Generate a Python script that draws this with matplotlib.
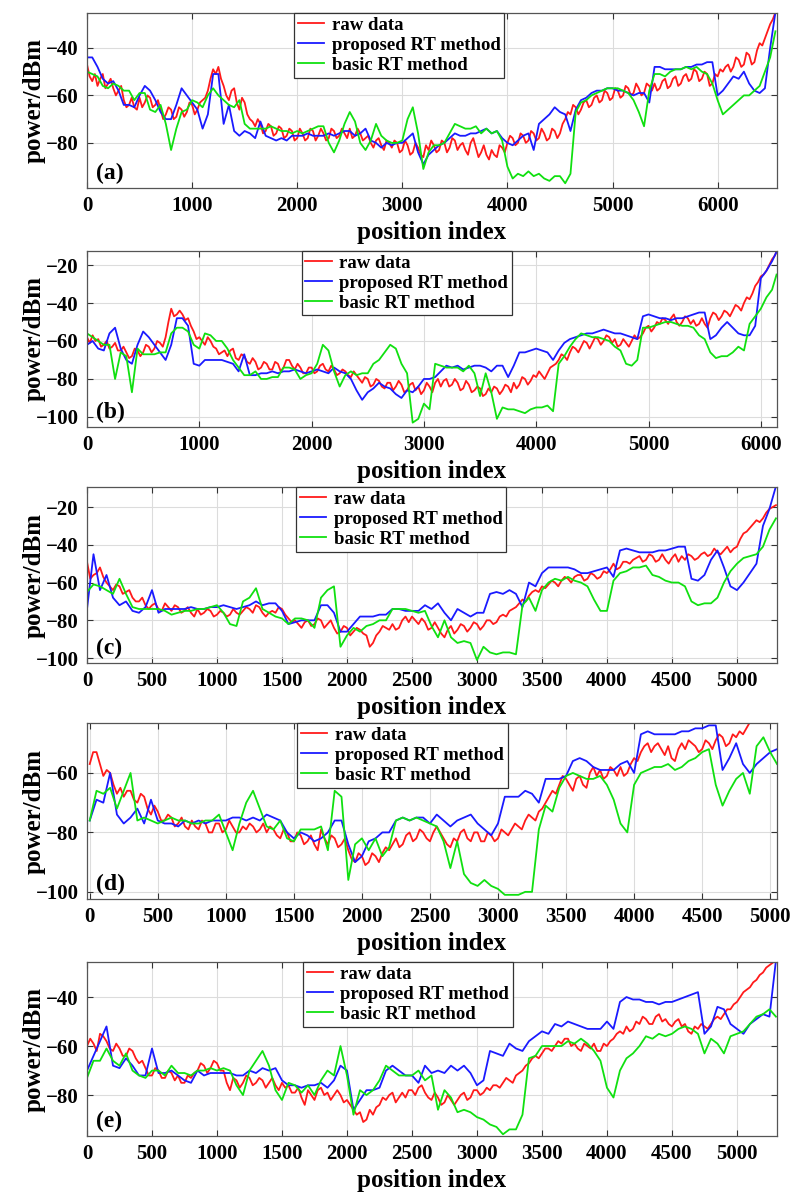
import numpy as np
import matplotlib
matplotlib.use('Agg')
import matplotlib.pyplot as plt

plt.rcParams['font.family'] = ['Liberation Serif', 'DejaVu Serif']
plt.rcParams['font.weight'] = 'bold'
plt.rcParams['axes.unicode_minus'] = True

# ---- data (a) ----
x_a_raw = np.arange(0, 6551, 25)
raw_a = [-47, -52, -54, -51, -56, -53, -51, -57, -55, -53, -57, -60, -58, -56, -62, -65, -64, -61, -65, -66,
         -61, -65, -63, -60, -61, -65, -64, -62, -66, -70, -68, -65, -66, -70, -69, -65, -66, -69, -67, -63,
         -64, -68, -66, -63, -62, -61, -58, -53, -49, -51, -48, -53, -56, -60, -62, -58, -57, -63, -66, -61,
         -63, -68, -70, -71, -73, -70, -72, -76, -75, -72, -73, -77, -76, -73, -74, -78, -77, -74, -75, -79,
         -78, -74, -76, -79, -78, -74, -75, -79, -77, -74, -76, -79, -78, -74, -75, -78, -77, -74, -76, -78,
         -74, -78, -77, -74, -76, -79, -78, -77, -80, -82, -79, -78, -81, -83, -79, -80, -82, -79, -80, -84,
         -83, -79, -81, -85, -84, -80, -82, -85, -86, -81, -83, -79, -81, -84, -83, -79, -80, -84, -82, -78,
         -79, -83, -81, -80, -83, -85, -80, -78, -82, -86, -84, -81, -85, -87, -83, -85, -86, -81, -82, -84,
         -80, -77, -78, -81, -80, -76, -77, -80, -79, -75, -76, -79, -78, -74, -76, -79, -78, -74, -75, -78,
         -76, -72, -70, -67, -68, -64, -65, -68, -66, -63, -62, -65, -64, -61, -60, -63, -62, -58, -59, -62,
         -61, -57, -58, -61, -60, -56, -57, -60, -59, -55, -57, -60, -59, -55, -56, -58, -55, -58, -57, -54,
         -53, -57, -56, -53, -52, -56, -55, -52, -51, -54, -53, -49, -50, -54, -53, -50, -51, -56, -55, -51,
         -52, -49, -50, -48, -47, -50, -48, -44, -45, -48, -47, -42, -43, -47, -46, -41, -38, -39, -36, -33,
         -30, -28, -25]
x_a = np.arange(0, 6551, 50)
prop_a = [-44, -44, -48, -53, -55, -54, -58, -64, -64, -65,
          -60, -56, -58, -62, -67, -70, -70, -64, -57, -60,
          -63, -66, -74, -68, -51, -51, -72, -64, -75, -77,
          -75, -76, -78, -71, -77, -78, -79, -78, -79, -77,
          -77, -77, -76, -77, -77, -77, -76, -77, -76, -75,
          -75, -77, -76, -74, -79, -80, -82, -80, -81, -80,
          -80, -78, -76, -84, -89, -85, -83, -81, -80, -78,
          -76, -77, -77, -76, -76, -75, -74, -76, -75, -78,
          -80, -81, -79, -77, -76, -83, -72, -70, -68, -65,
          -67, -68, -75, -66, -62, -61, -59, -58, -58, -57,
          -57, -58, -58, -59, -60, -59, -59, -63, -48, -48,
          -49, -49, -49, -49, -48, -48, -47, -47, -46, -46,
          -60, -58, -55, -52, -53, -50, -55, -58, -59, -57,
          -40, -25]
basic_a = [-50, -51, -52, -56, -57, -55, -56, -58, -58, -62,
           -59, -59, -66, -67, -64, -72, -83, -74, -67, -66,
           -62, -63, -65, -60, -57, -60, -62, -64, -65, -62,
           -72, -74, -74, -74, -74, -73, -74, -75, -75, -76,
           -75, -76, -75, -74, -73, -73, -80, -84, -79, -72,
           -67, -71, -80, -83, -79, -72, -77, -79, -80, -80,
           -79, -70, -65, -76, -91, -84, -81, -81, -80, -76,
           -72, -73, -74, -74, -73, -76, -74, -76, -75, -79,
           -90, -95, -93, -94, -92, -94, -93, -95, -96, -94,
           -94, -97, -93, -67, -63, -62, -60, -59, -58, -57,
           -57, -57, -58, -59, -62, -67, -73, -58, -51, -51,
           -52, -50, -49, -49, -48, -49, -48, -50, -51, -55,
           -62, -68, -66, -64, -62, -60, -60, -58, -56, -50,
           -44, -33]

# ---- data (b) ----
x_b_raw = np.append(np.arange(0, 6126, 25), 6140)
raw_b = [-58, -61, -57, -60, -59, -63, -62, -60, -64, -63, -61, -65, -65, -63, -66, -69, -68, -64, -65, -68,
         -66, -62, -63, -66, -64, -60, -61, -63, -58, -50, -43, -47, -46, -44, -46, -49, -48, -52, -55, -59,
         -58, -60, -62, -58, -60, -63, -64, -67, -66, -65, -68, -65, -64, -69, -70, -67, -68, -71, -72, -69,
         -71, -75, -74, -71, -72, -75, -75, -71, -72, -76, -74, -70, -70, -73, -75, -72, -74, -77, -77, -74,
         -74, -77, -76, -73, -72, -75, -76, -73, -75, -78, -77, -75, -76, -78, -79, -76, -78, -80, -82, -79,
         -80, -84, -83, -80, -81, -84, -85, -82, -82, -86, -84, -81, -83, -87, -86, -83, -82, -86, -84, -88,
         -86, -82, -84, -87, -82, -80, -84, -81, -80, -84, -83, -80, -82, -86, -85, -81, -83, -87, -86, -84,
         -85, -89, -88, -85, -87, -84, -85, -88, -86, -83, -84, -87, -82, -85, -83, -79, -80, -83, -81, -78,
         -79, -76, -78, -80, -77, -74, -73, -72, -70, -67, -68, -70, -66, -63, -64, -66, -63, -60, -61, -64,
         -61, -58, -59, -62, -60, -57, -58, -61, -59, -63, -62, -59, -61, -63, -60, -57, -59, -58, -56, -53,
         -52, -55, -53, -50, -51, -48, -49, -51, -48, -46, -50, -52, -50, -47, -48, -51, -49, -52, -51, -48,
         -51, -53, -48, -45, -46, -49, -47, -44, -45, -47, -44, -41, -42, -44, -40, -37, -38, -35, -31, -29,
         -26, -25, -23, -20, -17, -15, -13]
x_b = np.append(np.arange(0, 6101, 50), 6140)
prop_b = [-62, -60, -64, -65, -56, -53, -64, -70, -72, -62,
          -55, -58, -62, -66, -70, -62, -48, -48, -52, -72,
          -73, -70, -70, -70, -70, -71, -72, -76, -67, -78,
          -78, -77, -77, -76, -77, -76, -76, -75, -76, -77,
          -76, -75, -76, -77, -74, -76, -77, -80, -86, -91,
          -87, -85, -82, -84, -85, -88, -90, -86, -87, -84,
          -80, -80, -79, -76, -73, -74, -73, -75, -74, -73,
          -73, -74, -76, -73, -73, -79, -73, -66, -66, -65,
          -64, -65, -66, -70, -65, -61, -59, -58, -57, -56,
          -56, -55, -54, -55, -56, -56, -57, -58, -59, -47,
          -46, -47, -48, -48, -49, -48, -48, -47, -46, -45,
          -45, -59, -57, -53, -50, -53, -56, -57, -57, -52,
          -27, -23, -18, -13]
basic_b = [-56, -58, -60, -62, -62, -80, -66, -68, -87, -64,
           -67, -67, -67, -66, -66, -56, -53, -53, -55, -62,
           -64, -56, -57, -60, -60, -64, -70, -74, -78, -78,
           -76, -80, -80, -79, -79, -74, -74, -75, -80, -78,
           -77, -72, -62, -65, -76, -84, -78, -76, -78, -77,
           -77, -72, -70, -66, -62, -64, -72, -77, -103, -101,
           -93, -96, -72, -73, -74, -74, -74, -76, -73, -77,
           -89, -77, -87, -101, -95, -96, -96, -97, -98, -96,
           -95, -95, -94, -97, -72, -68, -63, -59, -56, -57,
           -58, -58, -59, -60, -63, -65, -72, -73, -70, -53,
           -53, -52, -51, -50, -50, -51, -52, -52, -53, -57,
           -59, -66, -69, -68, -68, -66, -63, -65, -51, -47,
           -43, -37, -33, -25]

# ---- data (c) ----
x_c_raw = np.arange(0, 5301, 25)
raw_c = [-49, -58, -56, -55, -52, -57, -60, -62, -64, -61, -62, -66, -65, -64, -68, -70, -70, -68, -72, -74,
         -72, -71, -74, -75, -71, -73, -75, -72, -73, -76, -75, -73, -76, -78, -74, -77, -76, -74, -75, -78,
         -77, -75, -76, -78, -77, -74, -76, -77, -75, -73, -74, -76, -72, -73, -76, -78, -76, -75, -76, -73,
         -74, -77, -79, -81, -80, -82, -84, -81, -80, -83, -82, -79, -80, -84, -82, -80, -84, -87, -86, -83,
         -84, -88, -86, -84, -85, -87, -88, -94, -92, -88, -86, -83, -84, -85, -82, -85, -84, -80, -78, -81,
         -78, -80, -82, -79, -81, -85, -84, -81, -84, -87, -89, -85, -83, -87, -85, -82, -83, -86, -84, -81,
         -82, -85, -83, -80, -80, -82, -81, -78, -77, -78, -75, -74, -73, -71, -69, -70, -67, -65, -64, -65,
         -62, -63, -61, -59, -60, -62, -59, -57, -58, -60, -57, -56, -56, -59, -58, -55, -56, -58, -57, -54,
         -55, -53, -50, -53, -52, -49, -49, -50, -48, -47, -46, -49, -48, -45, -46, -49, -48, -45, -48, -50,
         -47, -45, -49, -46, -48, -45, -46, -48, -47, -45, -44, -46, -45, -42, -44, -45, -43, -41, -44, -42,
         -41, -37, -34, -33, -31, -29, -27, -28, -26, -23, -21, -20, -19]
x_c = np.arange(0, 5301, 50)
prop_c = [-74, -45, -64, -56, -68, -72, -70, -75, -76, -73,
          -64, -76, -74, -74, -74, -74, -73, -74, -74, -73,
          -73, -72, -73, -74, -73, -72, -70, -72, -71, -71,
          -75, -82, -81, -80, -80, -80, -72, -72, -76, -86,
          -86, -82, -78, -78, -78, -77, -77, -74, -74, -75,
          -75, -75, -72, -74, -71, -76, -80, -74, -76, -78,
          -76, -76, -66, -65, -66, -64, -66, -73, -60, -62,
          -55, -52, -52, -52, -52, -53, -55, -55, -54, -53,
          -52, -57, -43, -42, -43, -44, -44, -44, -43, -43,
          -42, -41, -41, -58, -59, -56, -48, -43, -52, -62,
          -64, -60, -55, -50, -30, -21, -9]
basic_c = [-65, -61, -62, -64, -66, -58, -66, -73, -74, -74,
           -74, -74, -75, -77, -76, -75, -75, -74, -74, -73,
           -72, -76, -82, -83, -70, -68, -63, -74, -76, -78,
           -79, -82, -79, -79, -80, -84, -68, -64, -62, -94,
           -88, -84, -86, -83, -82, -80, -80, -74, -74, -74,
           -75, -76, -75, -83, -89, -80, -89, -92, -91, -92,
           -101, -94, -97, -98, -97, -97, -98, -72, -68, -75,
           -64, -60, -58, -59, -57, -59, -60, -62, -69, -75,
           -75, -59, -55, -54, -52, -52, -51, -56, -57, -59,
           -60, -60, -62, -70, -72, -71, -71, -68, -60, -54,
           -50, -47, -46, -45, -41, -32, -26]

# ---- data (d) ----
x_d_raw = np.arange(0, 5051, 25)
raw_d = [-57, -53, -53, -57, -61, -59, -60, -64, -67, -65, -68, -66, -66, -69, -70, -67, -68, -72, -74, -71,
         -73, -76, -76, -74, -75, -78, -77, -75, -78, -79, -76, -78, -79, -76, -77, -80, -80, -77, -77, -80,
         -79, -76, -78, -80, -80, -78, -79, -77, -78, -80, -79, -77, -80, -78, -79, -81, -82, -79, -80, -83,
         -83, -80, -81, -84, -83, -81, -84, -86, -79, -82, -84, -81, -82, -85, -84, -82, -86, -89, -90, -87,
         -88, -91, -90, -87, -88, -90, -87, -85, -86, -84, -82, -85, -84, -81, -80, -83, -82, -79, -80, -82,
         -83, -80, -78, -80, -82, -84, -85, -82, -83, -80, -79, -82, -83, -80, -80, -83, -83, -80, -81, -83,
         -82, -79, -80, -81, -79, -77, -78, -79, -76, -74, -75, -76, -73, -72, -70, -68, -66, -67, -64, -61,
         -62, -64, -66, -62, -61, -64, -65, -60, -58, -61, -59, -62, -61, -58, -59, -61, -58, -61, -60, -57,
         -55, -56, -53, -51, -50, -53, -51, -50, -52, -54, -51, -55, -56, -52, -50, -52, -49, -50, -51, -53,
         -52, -49, -50, -52, -49, -47, -48, -51, -50, -47, -48, -46, -47, -45, -43, -42, -40, -39, -38, -37,
         -36, -35, -35]
x_d = np.arange(0, 5051, 50)
prop_d = [-76, -69, -70, -60, -74, -77, -75, -72, -77, -69,
          -76, -77, -77, -78, -76, -77, -76, -77, -76, -76,
          -76, -75, -75, -76, -75, -76, -74, -75, -76, -80,
          -82, -80, -81, -83, -82, -80, -76, -76, -84, -90,
          -88, -83, -82, -80, -80, -76, -75, -76, -75, -75,
          -77, -74, -76, -78, -76, -75, -74, -77, -79, -81,
          -77, -68, -68, -68, -66, -67, -70, -62, -62, -62,
          -61, -56, -55, -56, -58, -59, -59, -59, -57, -56,
          -60, -47, -46, -47, -47, -47, -47, -46, -46, -45,
          -45, -44, -44, -59, -55, -50, -57, -60, -57, -55,
          -53, -52]
basic_d = [-76, -66, -67, -65, -72, -66, -60, -76, -75, -76,
           -77, -76, -75, -76, -76, -77, -77, -76, -76, -74,
           -80, -86, -77, -70, -66, -72, -78, -79, -76, -82,
           -83, -79, -79, -79, -78, -86, -66, -68, -96, -84,
           -82, -86, -82, -88, -85, -76, -75, -76, -75, -76,
           -77, -78, -83, -92, -83, -94, -97, -98, -96, -98,
           -99, -101, -101, -101, -100, -100, -79, -71, -73, -65,
           -61, -60, -61, -62, -62, -61, -64, -69, -77, -80,
           -64, -60, -59, -58, -58, -57, -59, -58, -56, -55,
           -53, -52, -64, -71, -66, -62, -60, -67, -51, -48,
           -53, -57]

# ---- data (e) ----
x_e_raw = np.arange(0, 5301, 25)
raw_e = [-60, -57, -59, -62, -55, -56, -58, -61, -62, -59, -61, -64, -64, -61, -62, -65, -67, -66, -69, -72,
         -72, -69, -70, -73, -73, -70, -71, -74, -72, -75, -75, -72, -73, -71, -70, -67, -68, -71, -69, -66,
         -67, -70, -70, -75, -78, -73, -74, -77, -75, -72, -73, -76, -75, -73, -74, -77, -75, -73, -76, -78,
         -75, -77, -76, -79, -79, -77, -81, -84, -78, -80, -82, -78, -77, -80, -79, -82, -80, -78, -80, -83,
         -82, -84, -86, -88, -87, -91, -90, -86, -88, -85, -84, -81, -82, -80, -79, -83, -81, -79, -81, -78,
         -78, -80, -77, -76, -79, -81, -82, -79, -81, -84, -83, -80, -82, -84, -82, -80, -79, -82, -81, -78,
         -78, -80, -79, -77, -78, -76, -76, -77, -75, -73, -74, -75, -72, -71, -70, -68, -67, -65, -64, -65,
         -63, -61, -61, -62, -60, -58, -59, -57, -57, -60, -59, -61, -62, -59, -60, -61, -59, -62, -62, -59,
         -60, -58, -57, -55, -54, -55, -52, -54, -53, -50, -51, -48, -49, -51, -51, -48, -47, -50, -49, -51,
         -52, -50, -49, -52, -51, -54, -55, -52, -53, -51, -52, -53, -51, -49, -48, -49, -47, -45, -45, -43,
         -42, -40, -38, -37, -36, -34, -33, -31, -30, -28, -27, -26, -25]
x_e = np.arange(0, 5301, 50)
prop_e = [-70, -64, -58, -52, -68, -69, -65, -68, -72, -72,
          -61, -71, -71, -70, -72, -74, -75, -70, -72, -71,
          -71, -71, -71, -72, -72, -70, -71, -69, -70, -69,
          -74, -76, -76, -77, -76, -76, -75, -77, -74, -68,
          -70, -86, -82, -78, -78, -77, -70, -68, -70, -72,
          -72, -75, -68, -71, -70, -71, -68, -70, -68, -71,
          -76, -74, -62, -63, -64, -59, -61, -62, -58, -56,
          -54, -55, -51, -52, -50, -51, -52, -53, -53, -53,
          -50, -53, -42, -40, -41, -41, -42, -42, -43, -42,
          -42, -41, -40, -39, -38, -55, -52, -44, -45, -51,
          -53, -55, -51, -49, -47, -48, -25]
basic_e = [-73, -66, -66, -61, -66, -68, -63, -70, -72, -73,
           -70, -70, -72, -68, -71, -71, -72, -70, -70, -69,
           -70, -69, -70, -76, -80, -70, -66, -62, -68, -78,
           -82, -75, -76, -79, -76, -80, -74, -70, -72, -60,
           -72, -88, -78, -80, -78, -74, -68, -70, -72, -72,
           -72, -70, -74, -72, -86, -78, -81, -87, -86, -87,
           -89, -90, -92, -93, -96, -94, -94, -88, -65, -64,
           -60, -60, -60, -60, -58, -59, -57, -59, -62, -66,
           -77, -81, -70, -65, -63, -60, -56, -57, -55, -56,
           -55, -53, -52, -53, -55, -63, -57, -59, -63, -56,
           -55, -54, -51, -48, -47, -45, -48]

panels = [
    ('(a)', x_a_raw, raw_a, x_a, prop_a, basic_a, (0, 6565), (-99, -25.3),
     np.arange(0, 6001, 1000), [-80, -60, -40], 13, 188, 0.300),
    ('(b)', x_b_raw, raw_b, x_b, prop_b, basic_b, (0, 6144), (-105.3, -12.6),
     np.arange(0, 6001, 1000), [-100, -80, -60, -40, -20], 251, 427, 0.311),
    ('(c)', x_c_raw, raw_c, x_c, prop_c, basic_c, (0, 5308), (-102.6, -9.4),
     np.arange(0, 5001, 500), [-100, -80, -60, -40, -20], 487, 663, 0.303),
    ('(d)', x_d_raw, raw_d, x_d, prop_d, basic_d, (-20, 5050), (-102.4, -43.2),
     np.arange(0, 5001, 500), [-100, -80, -60], 723, 899, 0.305),
    ('(e)', x_e_raw, raw_e, x_e, prop_e, basic_e, (0, 5308), (-96.7, -25.7),
     np.arange(0, 5001, 500), [-80, -60, -40], 962, 1136, 0.313),
]

W, H = 800, 1196
fig = plt.figure(figsize=(W / 100, H / 100), dpi=100)

for tag, xr, raw, x, prop, basic, xl, yl, xt, yt, top, bot, lx in panels:
    ax = fig.add_axes([87 / W, 1 - bot / H, 690 / W, (bot - top) / H])
    ax.plot(xr, raw, color='#ff1a1a', lw=1.3, label='raw data')
    ax.plot(x, prop, color='#1a1aff', lw=1.3, label='proposed RT method')
    ax.plot(x, basic, color='#10e010', lw=1.3, label='basic RT method')
    ax.set_xlim(*xl)
    ax.set_ylim(*yl)
    ax.set_xticks(xt)
    ax.set_yticks(yt)
    ax.grid(True, color='#dcdcdc', lw=0.8)
    ax.set_axisbelow(True)
    ax.tick_params(direction='in', length=4, width=0.8, labelsize=15, pad=6,
                   top=True, right=True, color='#333333')
    for s in ax.spines.values():
        s.set_color('#555555')
        s.set_linewidth(0.9)
    ax.set_xlabel('position index', fontsize=18, fontweight='bold')
    ax.set_ylabel('power/dBm', fontsize=18, fontweight='bold')
    h_px = bot - top
    ax.xaxis.set_label_coords(0.5, -33 / h_px)
    ax.yaxis.set_label_coords(-41 / 690, 0.5)
    ax.text(0.013, 0.025, tag, transform=ax.transAxes, fontsize=17,
            fontweight='bold', ha='left', va='bottom')
    leg = ax.legend(loc='upper left', bbox_to_anchor=(lx, 1.0), borderaxespad=0,
                    fancybox=False, framealpha=1, edgecolor='#333333',
                    prop={'size': 13.5, 'weight': 'bold'}, handlelength=1.4,
                    handletextpad=0.4, labelspacing=0.15, borderpad=0.2)
    leg.get_frame().set_linewidth(0.9)

fig.savefig('out.png', dpi=100)
